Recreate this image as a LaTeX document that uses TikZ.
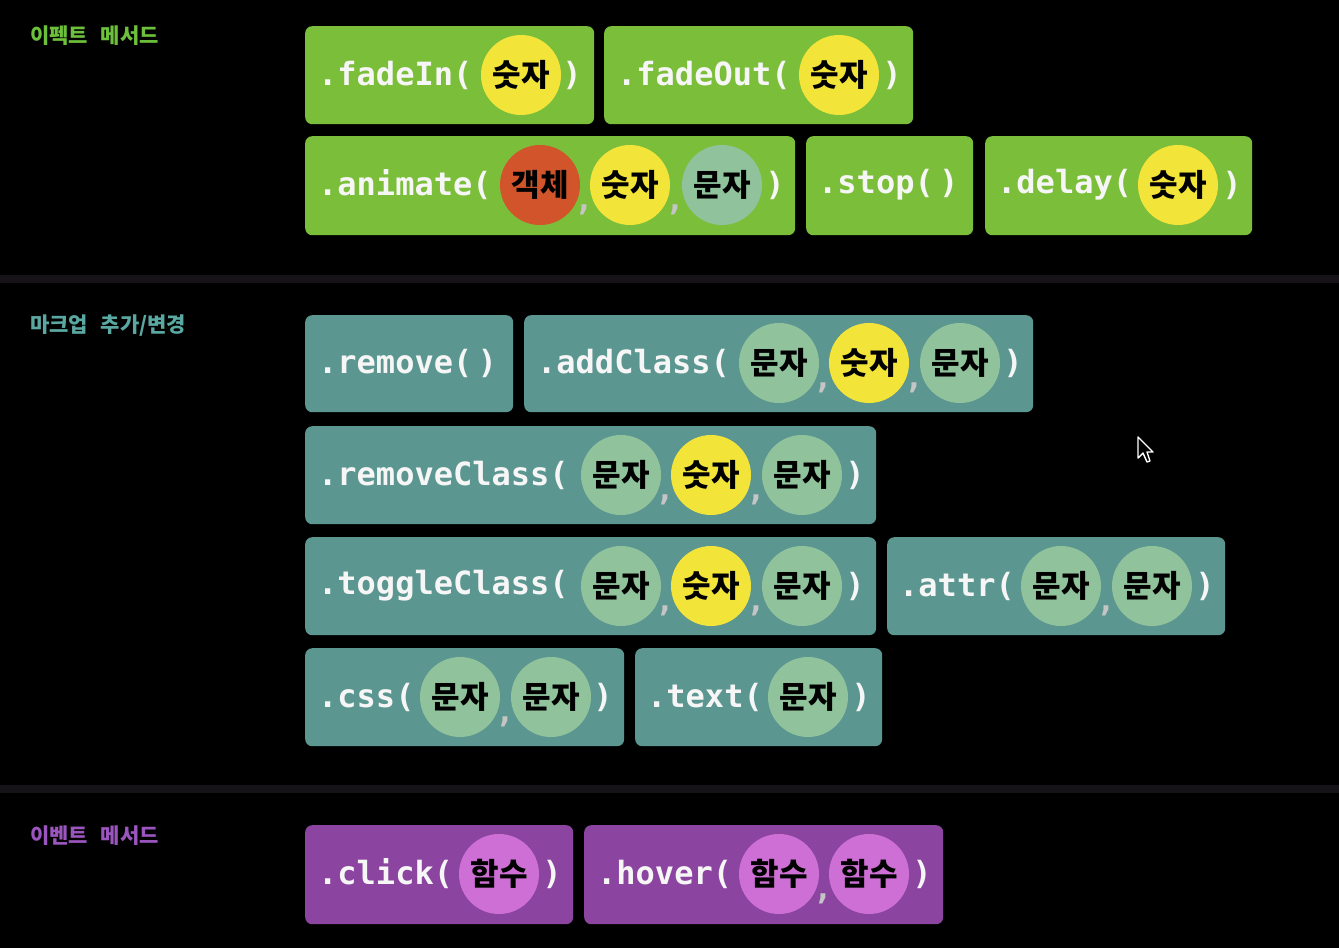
\documentclass[tikz,border=0pt]{standalone}
\usepackage{fontspec}
\setmonofont{DejaVu Sans Mono}
\newfontfamily\kr{Noto Sans CJK KR}
\definecolor{bg}{HTML}{000000}
\definecolor{sep}{HTML}{151317}
\definecolor{gbox}{HTML}{7BBE3A}
\definecolor{tbox}{HTML}{5C9691}
\definecolor{pbox}{HTML}{8B45A0}
\definecolor{cyel}{HTML}{F3E43A}
\definecolor{cred}{HTML}{D2542B}
\definecolor{cmint}{HTML}{90C29C}
\definecolor{cpur}{HTML}{CD6FD4}
\definecolor{lgreen}{HTML}{6CC03B}
\definecolor{lteal}{HTML}{5AA8A2}
\definecolor{lpur}{HTML}{9A55BE}
\definecolor{mwhite}{HTML}{F6F6F6}
\tikzset{
  mbox/.style={rounded corners=7pt, inner sep=0pt, anchor=north west, draw=none},
  mtext/.style={inner sep=0pt, text=mwhite, font=\ttfamily\bfseries\fontsize{32}{36}\selectfont},
  arg/.style={circle, inner sep=0pt, minimum size=80pt, fill=#1, text=black, font=\kr\bfseries\fontsize{31}{33}\selectfont},
  comma/.style={inner sep=0pt, text=mwhite!80!black, font=\ttfamily\bfseries\fontsize{32}{36}\selectfont},
  seclabel/.style={inner sep=0pt, anchor=west, font=\kr\bfseries\fontsize{21}{23}\selectfont, text=#1},
}
\newcommand\mbx[6]{% name, x1, y1, x2, y2, color
  \node[mbox, fill=#6, minimum width=#4-#2, minimum height=#5-#3] (#1) at (#2,#3) {};}
\begin{document}
\begin{tikzpicture}[x=1pt,y=-1pt]
\fill[bg] (0,0) rectangle (1339,948);
\useasboundingbox (0,0) rectangle (1339,948);
% separators
\fill[sep] (0,275) rectangle (1339,283);
\fill[sep] (0,785) rectangle (1339,793);
% section labels
\node[seclabel=lgreen] (lab1) at (30,36) {이펙트\hspace{0.6em}메서드};
\node[seclabel=lteal] (lab2) at (30,326) {마크업\hspace{0.6em}추가/변경};
\node[seclabel=lpur] (lab3) at (30,836) {이벤트\hspace{0.6em}메서드};

% ---- effects ----
\mbx{fadein}{305}{26}{594}{124}{gbox}
\node[mtext, anchor=west] (fadein-t) at (318,75) {.fadeIn(};
\node[arg=cyel] (fadein-a1) at (521,75) {숫자};
\node[mtext] (fadein-c) at (572,75) {)};

\mbx{fadeout}{604}{26}{913}{124}{gbox}
\node[mtext, anchor=west] (fadeout-t) at (617,75) {.fadeOut(};
\node[arg=cyel] (fadeout-a1) at (839,75) {숫자};
\node[mtext] (fadeout-c) at (892,75) {)};

\mbx{animate}{305}{136}{795}{235}{gbox}
\node[mtext, anchor=west] (animate-t) at (318,185) {.animate(};
\node[arg=cred] (animate-a1) at (540,185) {객체};
\node[comma] (animate-k1) at (584,210) {,};
\node[arg=cyel] (animate-a2) at (630,185) {숫자};
\node[comma] (animate-k2) at (675,210) {,};
\node[arg=cmint] (animate-a3) at (722,185) {문자};
\node[mtext] (animate-c) at (775,185) {)};

\mbx{stop}{806}{136}{973}{235}{gbox}
\node[mtext, anchor=west] (stop-t) at (818,185) {.stop(\,)};

\mbx{delay}{985}{136}{1252}{235}{gbox}
\node[mtext, anchor=west] (delay-t) at (997,185) {.delay(};
\node[arg=cyel] (delay-a1) at (1178,185) {숫자};
\node[mtext] (delay-c) at (1232,185) {)};

% ---- markup ----
\mbx{remove}{305}{315}{513}{412}{tbox}
\node[mtext, anchor=west] (remove-t) at (318,363) {.remove(\,)};

\mbx{addclass}{524}{315}{1033}{412}{tbox}
\node[mtext, anchor=west] (addclass-t) at (537,363) {.addClass(};
\node[arg=cmint] (addclass-a1) at (779,363) {문자};
\node[comma] (addclass-k1) at (823,388) {,};
\node[arg=cyel] (addclass-a2) at (869,363) {숫자};
\node[comma] (addclass-k2) at (914,388) {,};
\node[arg=cmint] (addclass-a3) at (960,363) {문자};
\node[mtext] (addclass-c) at (1013,363) {)};

\mbx{removeclass}{305}{426}{876}{524}{tbox}
\node[mtext, anchor=west] (removeclass-t) at (318,475) {.removeClass(};
\node[arg=cmint] (removeclass-a1) at (621,475) {문자};
\node[comma] (removeclass-k1) at (665,500) {,};
\node[arg=cyel] (removeclass-a2) at (711,475) {숫자};
\node[comma] (removeclass-k2) at (756,500) {,};
\node[arg=cmint] (removeclass-a3) at (802,475) {문자};
\node[mtext] (removeclass-c) at (855,475) {)};

\mbx{toggleclass}{305}{537}{876}{635}{tbox}
\node[mtext, anchor=west] (toggleclass-t) at (318,586) {.toggleClass(};
\node[arg=cmint] (toggleclass-a1) at (621,586) {문자};
\node[comma] (toggleclass-k1) at (665,611) {,};
\node[arg=cyel] (toggleclass-a2) at (711,586) {숫자};
\node[comma] (toggleclass-k2) at (756,611) {,};
\node[arg=cmint] (toggleclass-a3) at (802,586) {문자};
\node[mtext] (toggleclass-c) at (855,586) {)};

\mbx{attr}{887}{537}{1225}{635}{tbox}
\node[mtext, anchor=west] (attr-t) at (899,586) {.attr(};
\node[arg=cmint] (attr-a1) at (1061,586) {문자};
\node[comma] (attr-k1) at (1106,611) {,};
\node[arg=cmint] (attr-a2) at (1152,586) {문자};
\node[mtext] (attr-c) at (1205,586) {)};

\mbx{css}{305}{648}{624}{746}{tbox}
\node[mtext, anchor=west] (css-t) at (318,697) {.css(};
\node[arg=cmint] (css-a1) at (460,697) {문자};
\node[comma] (css-k1) at (505,722) {,};
\node[arg=cmint] (css-a2) at (551,697) {문자};
\node[mtext] (css-c) at (603,697) {)};

\mbx{text}{635}{648}{882}{746}{tbox}
\node[mtext, anchor=west] (text-t) at (647,697) {.text(};
\node[arg=cmint] (text-a1) at (808,697) {문자};
\node[mtext] (text-c) at (861,697) {)};

% ---- events ----
\mbx{click}{305}{825}{573}{924}{pbox}
\node[mtext, anchor=west] (click-t) at (318,874) {.click(};
\node[arg=cpur] (click-a1) at (499,874) {함수};
\node[mtext] (click-c) at (552,874) {)};

\mbx{hover}{584}{825}{943}{924}{pbox}
\node[mtext, anchor=west] (hover-t) at (597,874) {.hover(};
\node[arg=cpur] (hover-a1) at (779,874) {함수};
\node[comma] (hover-k1) at (823,899) {,};
\node[arg=cpur] (hover-a2) at (869,874) {함수};
\node[mtext] (hover-c) at (922,874) {)};

% mouse cursor
\filldraw[fill=black, draw=white, line width=1.4pt, line join=round]
  (1138,437) -- (1138,458) -- (1143,453) -- (1147,462) -- (1150,461) -- (1147,452) -- (1153,452) -- cycle;
\end{tikzpicture}
\end{document}
